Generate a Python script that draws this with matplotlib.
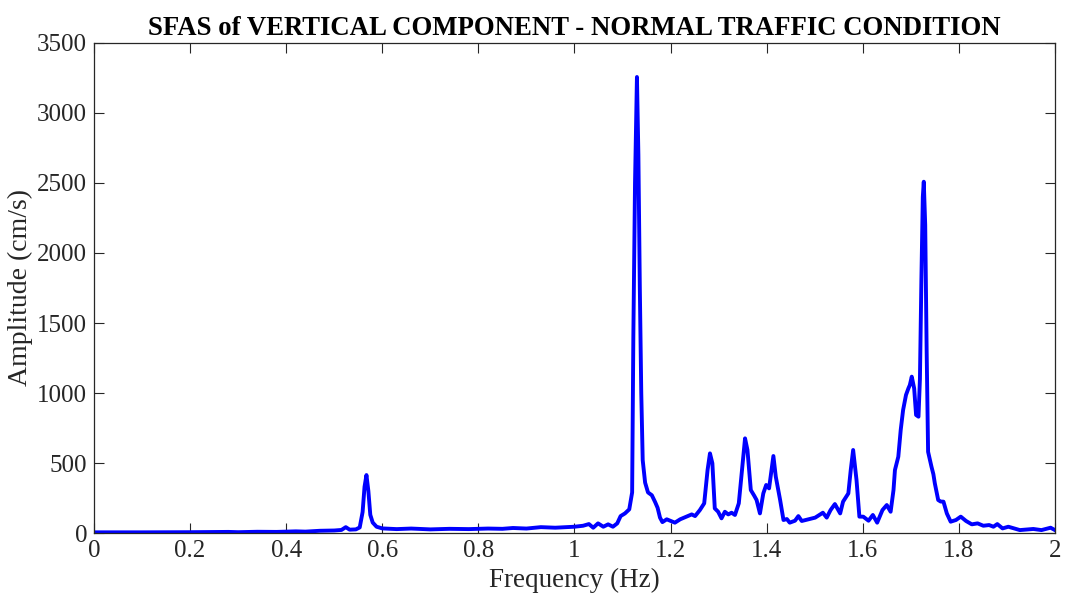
import matplotlib
matplotlib.use("Agg")
import matplotlib.pyplot as plt

# values
freq = [0.00, 0.10, 0.20, 0.28, 0.30, 0.34, 0.38, 0.42, 0.44, 0.47, 0.50, 0.515, 0.524, 0.532,
        0.545, 0.553, 0.559, 0.563, 0.567, 0.571, 0.575, 0.580, 0.588, 0.600, 0.63, 0.66, 0.70,
        0.74, 0.78, 0.82, 0.85, 0.872, 0.90, 0.93, 0.96, 1.00, 1.018, 1.030, 1.039, 1.049, 1.060,
        1.070, 1.080, 1.089, 1.096, 1.105, 1.114, 1.120, 1.1225, 1.126, 1.130, 1.133, 1.136,
        1.139, 1.142, 1.147, 1.153, 1.161, 1.168, 1.173, 1.178, 1.183, 1.192, 1.209, 1.220,
        1.233, 1.244, 1.251, 1.261, 1.270, 1.277, 1.282, 1.287, 1.292, 1.299, 1.306, 1.313,
        1.320, 1.327, 1.334, 1.342, 1.350, 1.355, 1.360, 1.367, 1.374, 1.379, 1.386, 1.393,
        1.399, 1.405, 1.414, 1.419, 1.428, 1.435, 1.442, 1.448, 1.459, 1.466, 1.473, 1.487,
        1.501, 1.517, 1.525, 1.533, 1.542, 1.553, 1.559, 1.570, 1.575, 1.580, 1.587, 1.593,
        1.601, 1.612, 1.621, 1.630, 1.641, 1.650, 1.658, 1.664, 1.667, 1.674, 1.679, 1.684,
        1.690, 1.695, 1.698, 1.702, 1.707, 1.711, 1.716, 1.719, 1.722, 1.725, 1.727, 1.730,
        1.733, 1.736, 1.740, 1.743, 1.747, 1.750, 1.757, 1.762, 1.768, 1.775, 1.783, 1.794,
        1.804, 1.815, 1.827, 1.839, 1.851, 1.863, 1.872, 1.880, 1.891, 1.903, 1.927, 1.955,
        1.972, 1.991, 2.000]
amp = [5, 5, 6, 8, 6, 9, 8, 12, 10, 16, 18, 22, 42, 24,
       26, 40, 150, 330, 414, 300, 130, 75, 45, 33, 28, 32, 26,
       30, 28, 32, 30, 36, 32, 42, 38, 45, 52, 64, 38, 69, 45,
       62, 45, 69, 121, 140, 169, 290, 1400, 2500, 3257, 2700, 1750,
       1000, 520, 360, 290, 270, 220, 180, 110, 78, 98, 74, 98,
       117, 133, 121, 164, 212, 450, 569, 498, 176, 152, 105, 152,
       133, 145, 129, 212, 498, 676, 593, 307, 267, 236, 140, 283,
       343, 319, 550, 402, 236, 93, 100, 74, 88, 121, 86, 98,
       110, 145, 110, 164, 207, 140, 224, 283, 450, 593, 379, 117,
       117, 88, 129, 74, 164, 200, 152, 307, 450, 545, 736, 879,
       986, 1033, 1057, 1117, 1033, 843, 831, 1100, 1800, 2400, 2509, 2200,
       1300, 580, 520, 474, 420, 355, 236, 225, 224, 140, 81, 93,
       117, 86, 62, 69, 52, 57, 45, 64, 33, 45, 21, 29,
       21, 38, 21]

xticks = [0, 0.2, 0.4, 0.6, 0.8, 1, 1.2, 1.4, 1.6, 1.8, 2]
xticklabels = ["0", "0.2", "0.4", "0.6", "0.8", "1", "1.2", "1.4", "1.6", "1.8", "2"]
yticks = [0, 500, 1000, 1500, 2000, 2500, 3000, 3500]

plt.rcParams["font.family"] = ["Liberation Serif", "DejaVu Serif"]

fig = plt.figure(figsize=(10.71, 6.01), dpi=100)
ax = fig.add_axes([0.0878, 0.1131, 0.8972, 0.8154])
ax.plot(freq, amp, color="#0000ff", linewidth=2.8, solid_joinstyle="round")

ax.set_xlim(0, 2)
ax.set_ylim(0, 3500)
ax.set_xticks(xticks)
ax.set_xticklabels(xticklabels)
ax.set_yticks(yticks)
ax.tick_params(direction="in", top=True, right=True, length=7, width=0.8,
               labelsize=18, colors="#262626", pad=5)
for s in ax.spines.values():
    s.set_color("#262626")
    s.set_linewidth(0.9)

ax.set_xlabel("Frequency (Hz)", fontsize=19.5, color="#262626", labelpad=4)
ax.set_ylabel("Amplitude (cm/s)", fontsize=20, color="#262626", labelpad=3)
ax.set_title("SFAS of VERTICAL COMPONENT - NORMAL TRAFFIC CONDITION",
             fontsize=19.3, fontweight="bold", pad=6)

fig.savefig("out.png", dpi=100)
